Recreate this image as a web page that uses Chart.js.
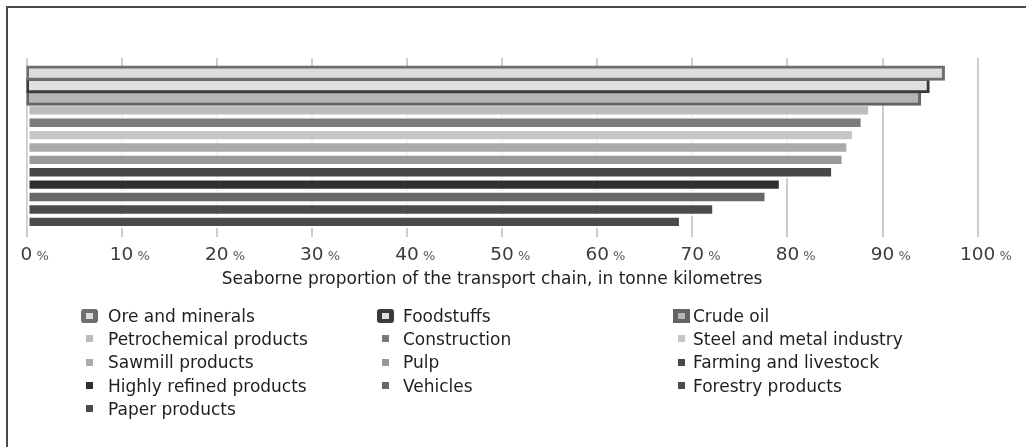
<!DOCTYPE html>
<html>
<head>
<meta charset="utf-8">
<script src="https://cdn.jsdelivr.net/npm/chart.js@4"></script>
<style>
  html, body { margin: 0; padding: 0; background: #fff; }
  #wrap { position: relative; width: 1026px; height: 447px; overflow: hidden; background: #fff; }
  #chartBox { position: absolute; left: 0; top: 0; width: 1026px; height: 447px; }
  #frame { position: absolute; left: 6px; top: 6px; right: -10px; bottom: -10px;
           border-top: 2px solid #4a4a4a; border-left: 2px solid #4a4a4a; pointer-events: none; }
  .lg-mark { position: absolute; box-sizing: border-box; border-style: solid; }
  .lg-text { position: absolute; font: 17px "DejaVu Sans", Verdana, sans-serif; line-height: 20px;
             color: #1e1e1e; white-space: nowrap; }
</style>
</head>
<body>
<div id="wrap">
  <div id="chartBox"><canvas id="chart"></canvas></div>
  <div id="legend"></div>
  <div id="frame"></div>
</div>
<script>
// Goods categories and their seaborne share of tonne kilometres (%)
const categories = [
  'Ore and minerals', 'Foodstuffs', 'Crude oil',
  'Petrochemical products', 'Construction', 'Steel and metal industry',
  'Sawmill products', 'Pulp', 'Farming and livestock',
  'Highly refined products', 'Vehicles', 'Forestry products',
  'Paper products'
];
const seaborneShare = [96.4, 94.8, 93.9, 88.7, 87.9, 87.0, 86.4, 85.9, 84.8, 79.3, 77.8, 72.3, 68.8];
const tickValues = [0, 10, 20, 30, 40, 50, 60, 70, 80, 90, 100];
const axisTitle = 'Seaborne proportion of the transport chain, in tonne kilometres';

// Styling
const fillColors = ['#dcdcdc', '#e0e0e0', '#b4b4b4', '#bcbcbc', '#7b7b7b', '#c6c6c6',
                    '#ababab', '#999999', '#484848', '#303030', '#686868', '#4b4b4b', '#4b4b4b'];
const edgeColors = ['#6e6e6e', '#3a3a3a', '#636363'];
const legendRadius = [3, 3, 0];
const FONT = '"DejaVu Sans", Verdana, sans-serif';

const datasets = categories.map((name, i) => {
  const outlined = i < edgeColors.length;
  return {
    label: name,
    data: [seaborneShare[i]],
    backgroundColor: fillColors[i],
    borderColor: outlined ? edgeColors[i] : '#ffffff',
    borderWidth: outlined ? 3 : 2,
    borderSkipped: false,
    inflateAmount: outlined ? 1.5 : 0,
    barPercentage: 1,
    categoryPercentage: 0.9
  };
});

// Percentage tick labels (large number, small percent sign) and axis title
const axisText = {
  id: 'axisText',
  afterDraw(chart) {
    const ctx = chart.ctx;
    const xs = chart.scales.x;
    ctx.save();
    ctx.textBaseline = 'alphabetic';
    ctx.textAlign = 'left';
    tickValues.forEach(v => {
      const px = xs.getPixelForValue(v);
      const num = String(v);
      ctx.font = '18.5px ' + FONT;
      const w = ctx.measureText(num).width;
      ctx.fillStyle = '#3c3c3c';
      ctx.fillText(num, px - w / 2, 260);
      ctx.font = '13px ' + FONT;
      ctx.fillStyle = '#595959';
      ctx.fillText(' %', px + w / 2, 260);
    });
    ctx.font = '17px ' + FONT;
    ctx.fillStyle = '#1e1e1e';
    ctx.textAlign = 'center';
    const cx = (chart.chartArea.left + chart.chartArea.right) / 2 - 10;
    ctx.fillText(axisTitle, cx, 283.5);
    ctx.restore();
  }
};

const chart = new Chart(document.getElementById('chart'), {
  type: 'bar',
  data: { labels: [''], datasets },
  options: {
    indexAxis: 'y',
    responsive: true,
    maintainAspectRatio: false,
    animation: false,
    layout: { padding: { left: 26.5, right: 48.3, top: 58, bottom: 210 } },
    plugins: { legend: { display: false }, tooltip: { enabled: false } },
    scales: {
      x: {
        min: 0, max: 100,
        ticks: { display: false, stepSize: 10 },
        grid: { color: '#cdcdcd', lineWidth: 2, drawTicks: false },
        border: { display: false }
      },
      y: { display: false }
    }
  },
  plugins: [axisText]
});

// Three-column legend built from the chart's datasets
const markX = [89, 385, 681];
const textX = [108, 403, 693];
const rowCenter0 = 315.6, rowStep = 23.3, baseline0 = 321.7;
const legendEl = document.getElementById('legend');
chart.data.datasets.forEach((ds, i) => {
  const col = i % 3, row = Math.floor(i / 3);
  const cy = rowCenter0 + row * rowStep;
  const mark = document.createElement('div');
  mark.className = 'lg-mark';
  if (i < edgeColors.length) {
    const w = 17, h = 14;
    Object.assign(mark.style, {
      left: (markX[col] - w / 2) + 'px', top: (cy - h / 2) + 'px',
      width: w + 'px', height: h + 'px',
      borderWidth: '4px 5px', borderColor: ds.borderColor,
      background: ds.backgroundColor, borderRadius: legendRadius[i] + 'px'
    });
  } else {
    const s = 7;
    Object.assign(mark.style, {
      left: (markX[col] - s / 2) + 'px', top: (cy - s / 2) + 'px',
      width: s + 'px', height: s + 'px', borderWidth: '0', background: ds.backgroundColor
    });
  }
  legendEl.appendChild(mark);
  const t = document.createElement('div');
  t.className = 'lg-text';
  t.textContent = ds.label;
  t.style.left = textX[col] + 'px';
  t.style.top = (baseline0 + row * rowStep - 15.88) + 'px';
  legendEl.appendChild(t);
});
</script>
</body>
</html>
